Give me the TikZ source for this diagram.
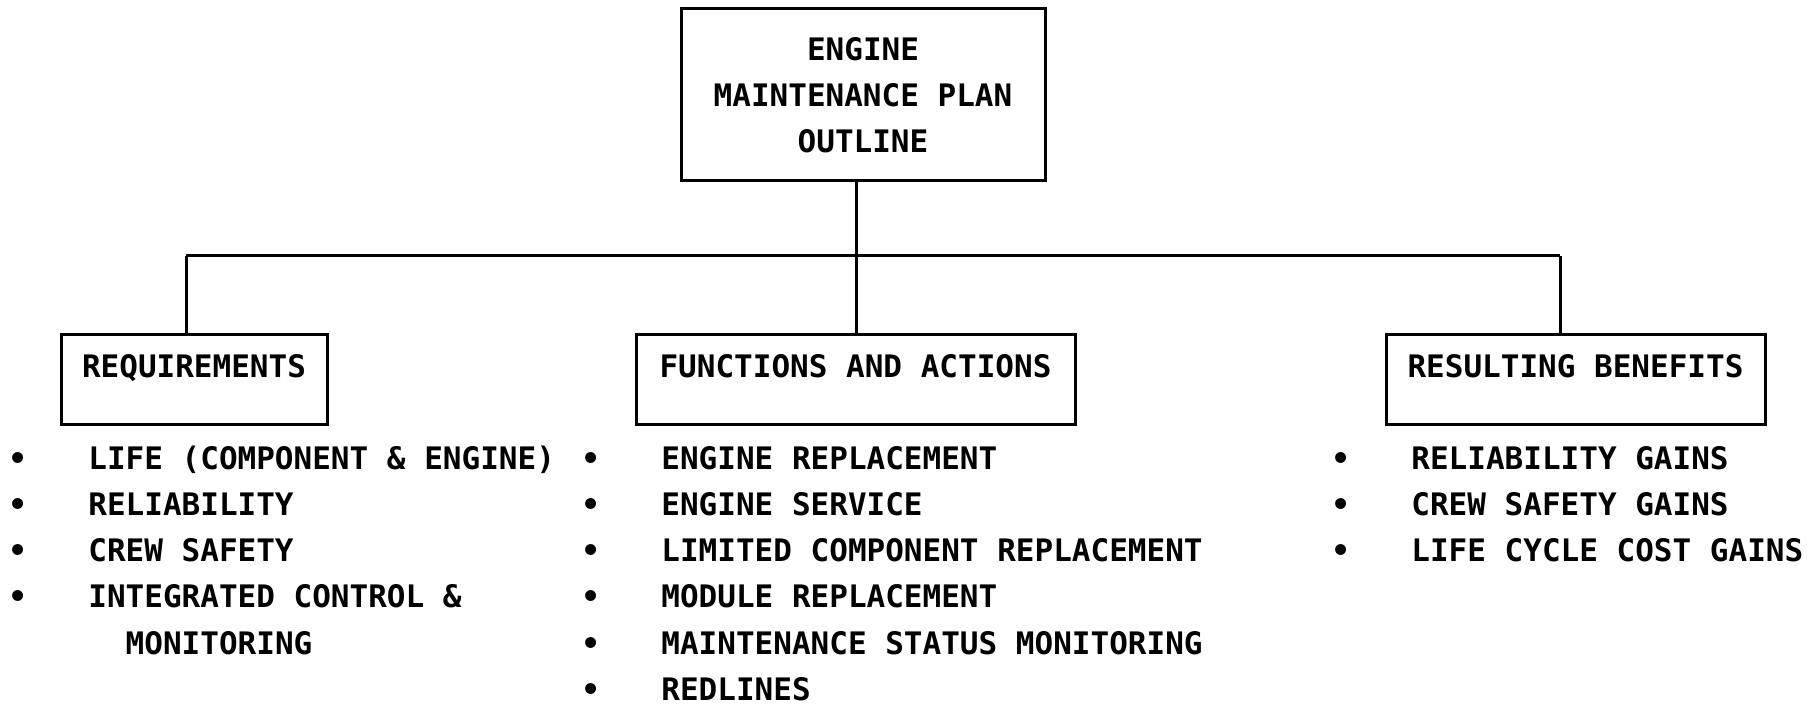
\documentclass[tikz,border=0pt]{standalone}
\usepackage{fontspec}
\newfontfamily\chartfont{DejaVu Sans Mono}
\newcommand{\bul}[1]{\makebox[40pt][l]{\textbullet}#1}
\newcommand{\nobul}[1]{\makebox[40pt][l]{}#1}

\tikzset{
  chart/.style={font=\chartfont\bfseries\fontsize{15.5pt}{23pt}\selectfont},
  headbox/.style={draw, line width=1.5pt, inner sep=0pt, minimum width=#1,
    text height=21.5pt, text depth=23.5pt},
  item/.style={anchor=base west, inner sep=0pt},
  link/.style={line width=1.5pt}
}

\begin{document}
\begin{tikzpicture}[x=0.5pt,y=-0.5pt,chart]
\useasboundingbox (0,0) rectangle (1811,705);

% top of the tree
\node[draw, line width=1.5pt, align=center, minimum width=182pt, minimum height=86pt]
  (plan) at (863,95) {ENGINE\\MAINTENANCE PLAN\\OUTLINE};

\node[headbox=133pt] (req) at (194,380) {REQUIREMENTS};
\node[headbox=219.5pt] (func) at (855.5,380) {FUNCTIONS AND ACTIONS};
\node[headbox=189.5pt] (bene) at (1575.5,380) {RESULTING BENEFITS};

\coordinate (busL) at (186,256);
\coordinate (busM) at (856,256);
\coordinate (busR) at (1560,256);

\draw[link] (busM |- plan.south) -- (busM);
\draw[link] (busL) -- (busR);
\draw[link] (busL) -- (busL |- req.north);
\draw[link] (busM) -- (busM |- func.north);
\draw[link] (busR) -- (busR |- bene.north);

% requirements
\node[item] (req1) at (8,470) {\bul{LIFE (COMPONENT \& ENGINE)}};
\node[item] (req2) at (8,516) {\bul{RELIABILITY}};
\node[item] (req3) at (8,562) {\bul{CREW SAFETY}};
\node[item] (req4) at (8,608) {\bul{INTEGRATED CONTROL \&}};
\node[item] (req5) at (8,654) {\nobul{\ \ MONITORING}};

% functions and actions
\node[item] (func1) at (581,470) {\bul{ENGINE REPLACEMENT}};
\node[item] (func2) at (581,516) {\bul{ENGINE SERVICE}};
\node[item] (func3) at (581,562) {\bul{LIMITED COMPONENT REPLACEMENT}};
\node[item] (func4) at (581,608) {\bul{MODULE REPLACEMENT}};
\node[item] (func5) at (581,654) {\bul{MAINTENANCE STATUS MONITORING}};
\node[item] (func6) at (581,700) {\bul{REDLINES}};

% benefits
\node[item] (bene1) at (1331,470) {\bul{RELIABILITY GAINS}};
\node[item] (bene2) at (1331,516) {\bul{CREW SAFETY GAINS}};
\node[item] (bene3) at (1331,562) {\bul{LIFE CYCLE COST GAINS}};
\end{tikzpicture}
\end{document}
